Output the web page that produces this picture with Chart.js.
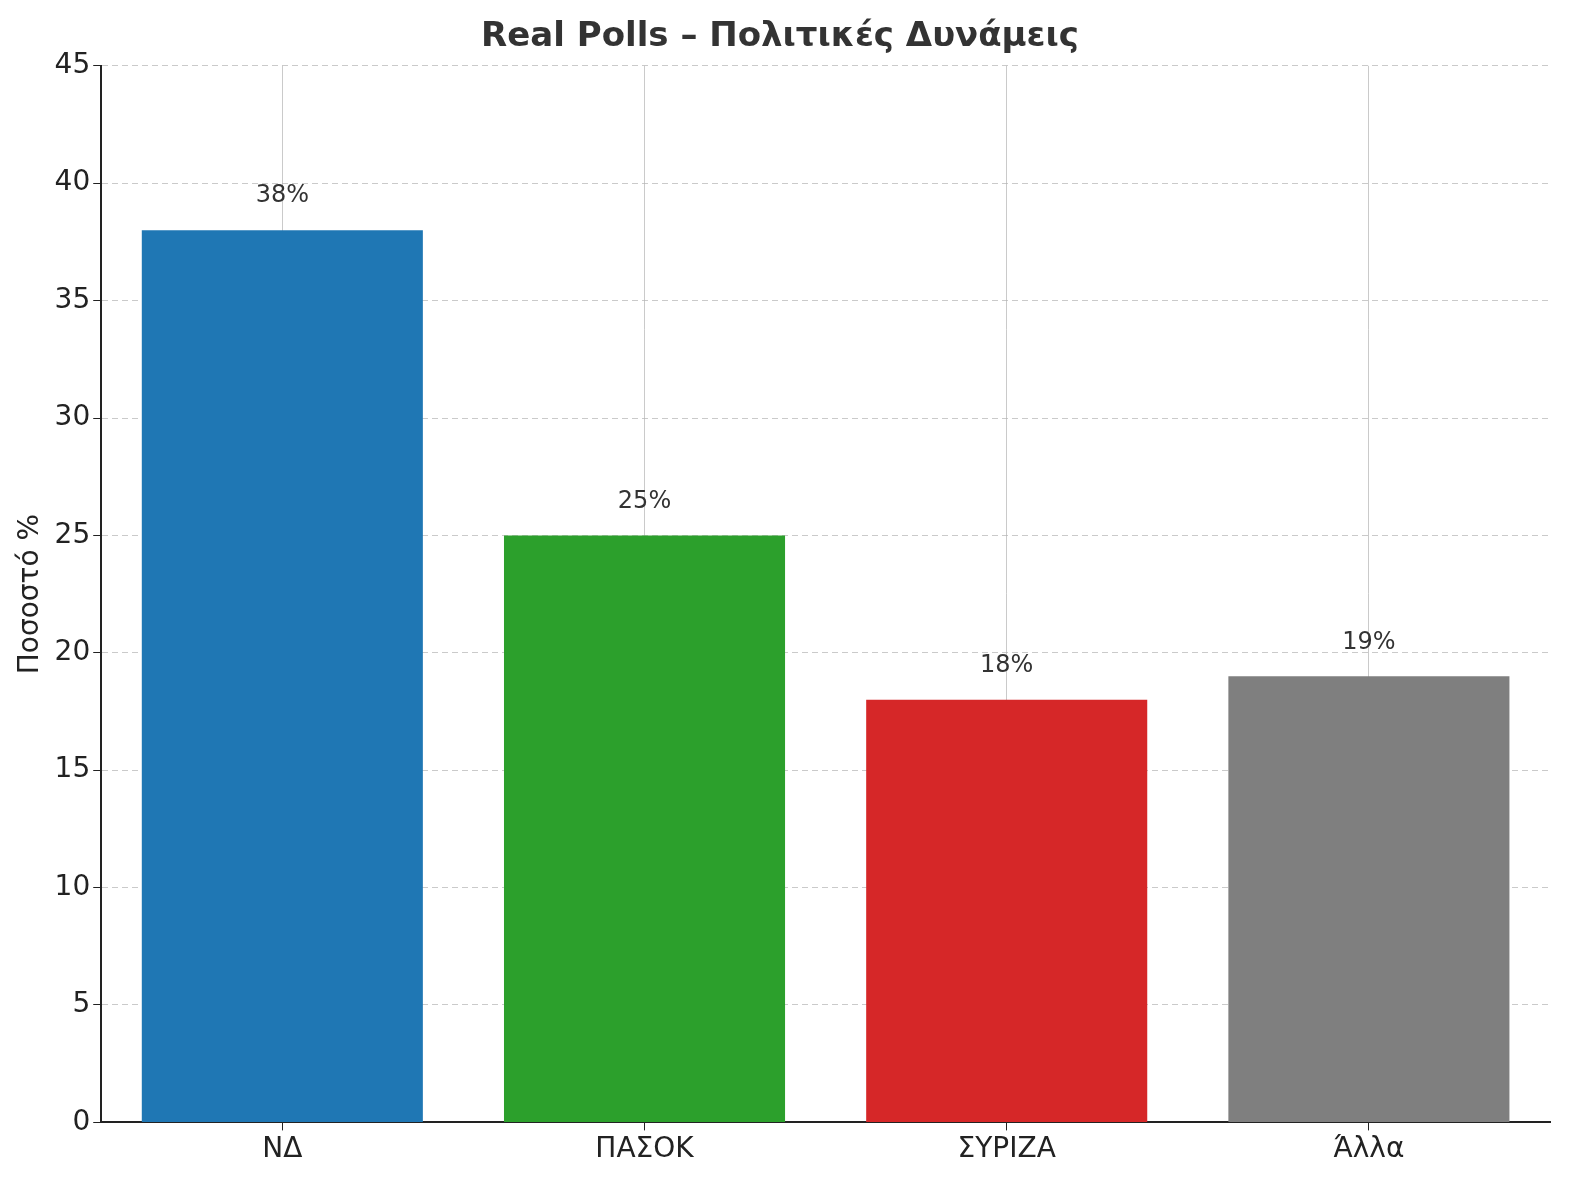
<!DOCTYPE html>
<html>
<head>
<meta charset="utf-8">
<script src="https://cdn.jsdelivr.net/npm/chart.js@4"></script>
<style>
  body { margin: 0; background: #fff; }
</style>
</head>
<body>
<canvas id="chart" width="1580" height="1180"></canvas>
<script>
const parties = ["ΝΔ", "ΠΑΣΟΚ", "ΣΥΡΙΖΑ", "Άλλα"];
const percentages = [38, 25, 18, 19];
const barColors = ["#1f77b4", "#2ca02c", "#d62728", "#7f7f7f"];

// value labels above bars
const valueLabels = {
  id: "valueLabels",
  afterDatasetsDraw(chart) {
    const ctx = chart.ctx;
    const meta = chart.getDatasetMeta(0);
    ctx.save();
    ctx.font = "24px 'DejaVu Sans'";
    ctx.fillStyle = "#333";
    ctx.textAlign = "center";
    ctx.textBaseline = "bottom";
    meta.data.forEach((bar, i) => {
      ctx.fillText(percentages[i] + "%", bar.x, bar.y - 22);
    });
    ctx.restore();
  },
};

new Chart(document.getElementById("chart").getContext("2d"), {
  type: "bar",
  data: {
    labels: parties,
    datasets: [
      {
        data: percentages,
        backgroundColor: barColors,
        barPercentage: 0.8,
        categoryPercentage: 0.97,
      },
    ],
  },
  options: {
    responsive: false,
    animation: false,
    devicePixelRatio: 1,
    layout: { padding: { left: 10, right: 30, top: 5, bottom: 10 } },
    plugins: {
      legend: { display: false },
      tooltip: { enabled: false },
      title: {
        display: true,
        text: "Real Polls – Πολιτικές Δυνάμεις",
        color: "#333",
        font: { family: "'DejaVu Sans'", size: 34, weight: "bold" },
        padding: { top: 12, bottom: 8 },
      },
    },
    scales: {
      x: {
        z: 1,
        grid: { offset: false, color: "rgba(180,180,180,0.7)", tickLength: 8, tickColor: "#222" },
        border: { display: true, color: "#222", width: 2, dash: [] },
        ticks: { color: "#222", font: { family: "'DejaVu Sans'", size: 28 } },
      },
      y: {
        z: 1,
        min: 0,
        max: 45,
        ticks: { stepSize: 5, color: "#222", font: { family: "'DejaVu Sans'", size: 28 } },
        grid: { color: "rgba(180,180,180,0.7)", tickLength: 8, tickColor: "#222" },
        border: { display: true, color: "#222", width: 2, dash: [6, 4] },
        title: {
          display: true,
          text: "Ποσοστό %",
          color: "#222",
          font: { family: "'DejaVu Sans'", size: 28 },
        },
      },
    },
  },
  plugins: [valueLabels],
});
</script>
</body>
</html>
